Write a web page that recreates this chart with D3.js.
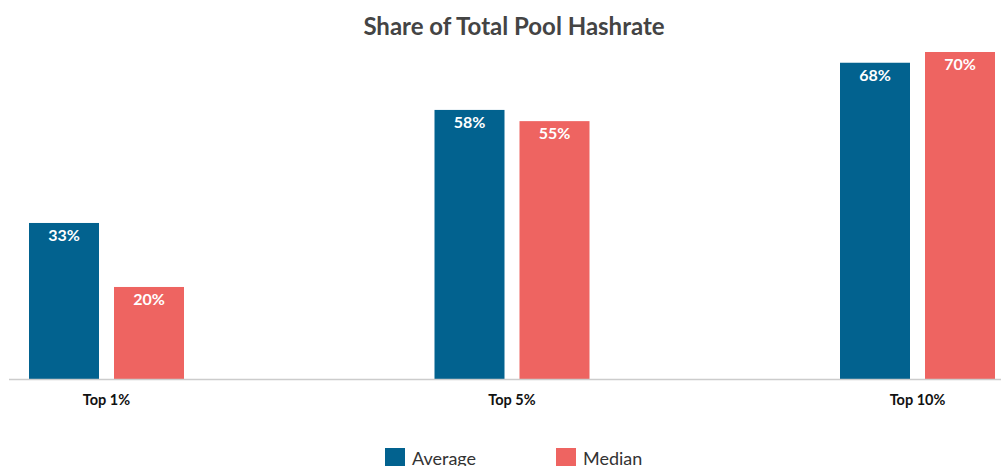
<!DOCTYPE html>
<html>
<head>
<meta charset="utf-8">
<script src="https://cdn.jsdelivr.net/npm/d3@7"></script>
<style>
  html, body { margin: 0; padding: 0; background: #fff; }
  svg { display: block; font-family: Lato, "Open Sans", sans-serif; }
</style>
</head>
<body>
<svg id="chart" width="1001" height="466"></svg>
<script>
const title = "Share of Total Pool Hashrate";
const categories = ["Top 1%", "Top 5%", "Top 10%"];
const seriesNames = ["Average", "Median"];
const averageValues = [33.4, 57.6, 67.7];
const medianValues = [19.7, 55.2, 70.0];
const valueLabels = [["33%", "58%", "68%"], ["20%", "55%", "70%"]];
const colors = ["#02628f", "#ee6461"];

const svg = d3.select("#chart");
const W = 1001, H = 466;
const baseY = 379;

const x0 = d3.scaleBand().domain(categories).range([29, 995])
  .paddingInner(1 - 155 / 405.5).paddingOuter(0);
const x1 = d3.scaleBand().domain(seriesNames).range([0, x0.bandwidth()])
  .paddingInner(15 / 85).paddingOuter(0);
const y = d3.scaleLinear().domain([0, 70]).range([baseY, 52]);
const color = d3.scaleOrdinal().domain(seriesNames).range(colors);

const seriesValues = [averageValues, medianValues];
const rows = [];
seriesNames.forEach((s, si) => {
  categories.forEach((c, ci) => {
    rows.push({ series: s, cat: c, value: seriesValues[si][ci], label: valueLabels[si][ci] });
  });
});

// title
svg.append("text")
  .attr("x", 514).attr("y", 35)
  .attr("text-anchor", "middle")
  .attr("font-size", 24).attr("font-weight", 700)
  .attr("fill", "#444")
  .text(title);

// bars
const g = svg.append("g");
g.selectAll("rect.bar").data(rows).join("rect")
  .attr("class", "bar")
  .attr("x", d => x0(d.cat) + x1(d.series))
  .attr("y", d => y(d.value))
  .attr("width", x1.bandwidth())
  .attr("height", d => y(0) - y(d.value))
  .attr("fill", d => color(d.series));

g.selectAll("text.val").data(rows).join("text")
  .attr("class", "val")
  .attr("x", d => x0(d.cat) + x1(d.series) + x1.bandwidth() / 2)
  .attr("y", d => y(d.value) + 18)
  .attr("text-anchor", "middle")
  .attr("font-size", 16).attr("font-weight", 700)
  .attr("fill", "#fff")
  .text(d => d.label);

// axis
const axis = svg.append("g").attr("transform", `translate(0,${baseY})`)
  .call(d3.axisBottom(x0).tickSize(0).tickPadding(0));
axis.select(".domain").remove();
svg.append("line")
  .attr("x1", 9).attr("x2", W).attr("y1", baseY + 0.5).attr("y2", baseY + 0.5)
  .attr("stroke", "#cccccc").attr("stroke-width", 1.5);
axis.selectAll(".tick text")
  .attr("y", 26)
  .attr("dy", 0)
  .attr("font-family", "Lato, sans-serif")
  .attr("font-size", 14.5).attr("font-weight", 700)
  .attr("fill", "#111");

// legend
const legendX = [385, 556];
const lg = svg.append("g");
seriesNames.forEach((s, i) => {
  lg.append("rect")
    .attr("x", legendX[i]).attr("y", 448)
    .attr("width", 20).attr("height", 20)
    .attr("fill", color(s));
  lg.append("text")
    .attr("x", legendX[i] + 27).attr("y", 465)
    .attr("font-size", 18)
    .attr("fill", "#333")
    .text(s);
});
</script>
</body>
</html>
